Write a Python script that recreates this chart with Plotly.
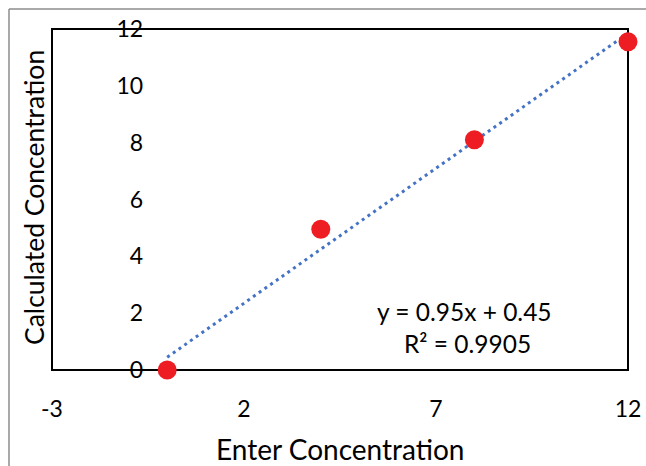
import plotly.graph_objects as go

# Data
entered = [0, 4, 8, 12]
calculated = [0, 4.95, 8.1, 11.55]
slope = 0.95
intercept = 0.45
x_ticks = [-3, 2, 7, 12]
x_tick_labels = ["-3", "2", "7", "12"]
y_ticks = [0, 2, 4, 6, 8, 10, 12]
eq_text = "y = 0.95x + 0.45"
r2_text = "R² = 0.9905"

FONT = "Lato, 'Open Sans', sans-serif"
W, H = 646, 466
L, T = 52, 29
pw, ph = 576, 341
R, B = W - L - pw, H - T - ph

def px(xp):
    # xp given in page pixel coordinates
    return (xp - L) / pw

def py(yp):
    return (T + ph - yp) / ph

trend_x = [min(entered), max(entered)]
trend_y = [slope * v + intercept for v in trend_x]

fig = go.Figure()
fig.add_trace(go.Scatter(
    x=trend_x, y=trend_y, mode="lines",
    line=dict(color="#4472C4", width=3, dash="3px,4px"),
    cliponaxis=False, showlegend=False, hoverinfo="skip"))
fig.add_trace(go.Scatter(
    x=entered, y=calculated, mode="markers",
    marker=dict(color="#EE1D23", size=19, line=dict(width=0)),
    cliponaxis=False, showlegend=False))

fig.update_layout(
    width=W, height=H,
    margin=dict(l=L, r=R, t=T, b=B, pad=0, autoexpand=False),
    paper_bgcolor="white", plot_bgcolor="white",
    font=dict(family=FONT, size=23, color="black"),
    xaxis=dict(range=[-3, 12], tickvals=x_ticks, ticktext=x_tick_labels,
               showgrid=False, zeroline=False, automargin=False,
               showline=False, ticks="", ticklabelstandoff=23,
               tickfont=dict(size=23)),
    yaxis=dict(range=[0, 12], tickvals=y_ticks, showgrid=False, zeroline=False,
               showline=False, ticks="", anchor="free", position=0.2,
               automargin=False, ticklabelstandoff=24, tickfont=dict(size=23)),
    shapes=[
        dict(type="rect", xref="paper", yref="paper", x0=0, x1=1, y0=0, y1=1,
             line=dict(color="black", width=2), layer="below"),
        dict(type="line", xref="paper", yref="paper", x0=px(9), x1=px(700), y0=py(9), y1=py(9),
             line=dict(color="#8c8c8c", width=1.5)),
        dict(type="line", xref="paper", yref="paper", x0=px(9), x1=px(9), y0=py(9), y1=py(700),
             line=dict(color="#8c8c8c", width=1.5)),
    ],
    annotations=[
        dict(text="Enter Concentration", xref="paper", yref="paper",
             x=0.5, y=py(449), xanchor="center", yanchor="middle",
             showarrow=False, font=dict(size=28)),
        dict(text="Calculated Concentration", xref="paper", yref="paper",
             x=px(34), y=py(198), xanchor="center", yanchor="middle", textangle=-90,
             showarrow=False, font=dict(size=26.5)),
        dict(text=eq_text, xref="paper", yref="paper",
             x=px(464), y=py(311), xanchor="center", yanchor="middle",
             showarrow=False, font=dict(size=24.5)),
        dict(text=r2_text, xref="paper", yref="paper",
             x=px(467), y=py(343), xanchor="center", yanchor="middle",
             showarrow=False, font=dict(size=24.5)),
    ],
)

fig.write_html(
    "out.html",
    config={"displayModeBar": False},
    post_script="document.documentElement.style.margin='0';"
                "document.body.style.margin='0';"
                "document.body.style.overflow='hidden';",
)
